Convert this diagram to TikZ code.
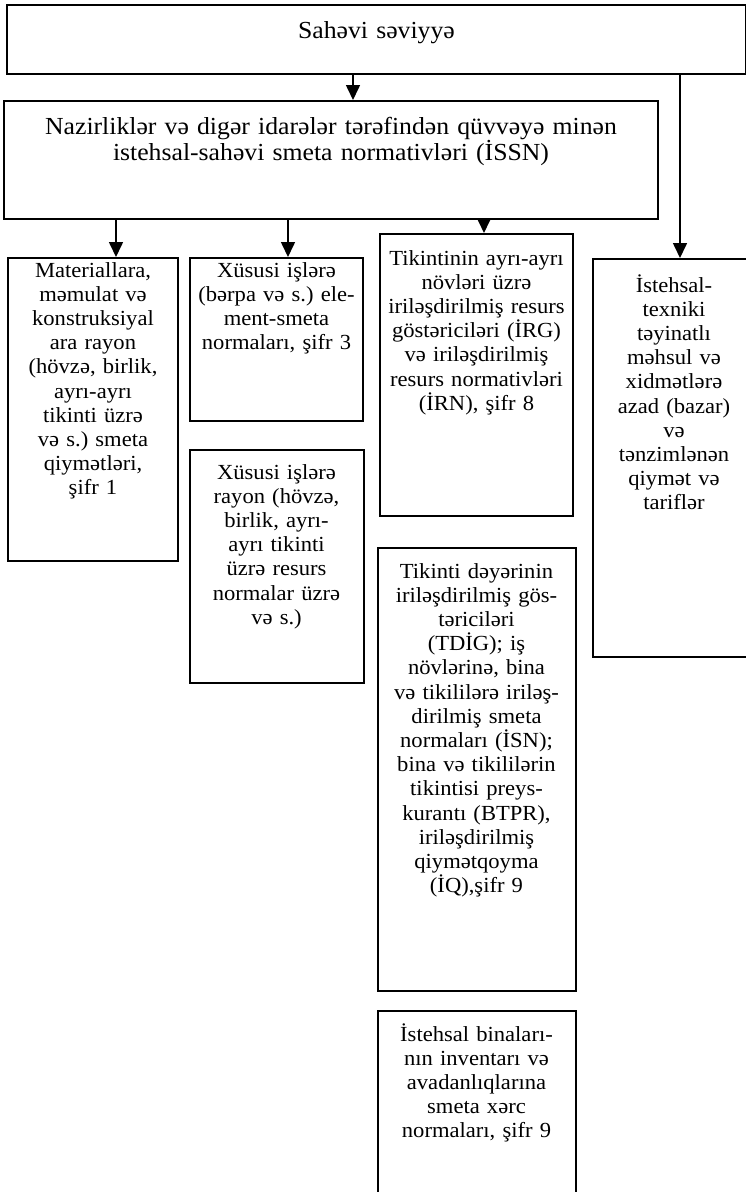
\documentclass[tikz,border=0pt]{standalone}
\usepackage{fontspec}
\setmainfont{Liberation Serif}[FakeStretch=1.05]
\frenchspacing
\usetikzlibrary{arrows.meta,positioning}
\tikzset{
  levelbox/.style={draw, line width=2pt, anchor=north west, inner sep=0pt, align=center,
    font=\fontsize{21.5}{24.2}\selectfont},
  widebox/.style={levelbox, font=\fontsize{24.5}{24}\selectfont},
  flow/.style={-{Triangle[length=15pt,width=14pt]}, line width=1.6pt},
}
\begin{document}
\begin{tikzpicture}[x=1pt, y=-1pt]
\useasboundingbox (0,0) rectangle (746,1192);

% Sector level and ISSN.
\node[widebox, text width=739pt, text height=33pt, text depth=36pt] (sector) at (6,4) {Sahəvi səviyyə};
\node[widebox, text width=654pt, text height=33pt, text depth=85pt] (issn) at (3,100)
  {Nazirliklər və digər idarələr tərəfindən qüvvəyə minən\\istehsal-sahəvi smeta normativləri (İSSN)};

% Columns under ISSN.
\node[levelbox, text width=170pt, text height=19pt, text depth=284pt] (materials) at (7,257)
  {Materiallara,\\məmulat və\\konstruksiyal\\ara rayon\\(hövzə, birlik,\\ayrı-ayrı\\tikinti üzrə\\və s.) smeta\\qiymətləri,\\şifr 1};
\node[levelbox, text width=173pt, text height=19pt, text depth=144pt] (elements) at (189,257)
  {Xüsusi işlərə\\(bərpa və s.) ele-\\ment-smeta\\normaları, şifr 3};
\node[levelbox, text width=174pt, text height=29pt, text depth=204pt, below=27pt of elements] (regional)
  {Xüsusi işlərə\\rayon (hövzə,\\birlik, ayrı-\\ayrı tikinti\\üzrə resurs\\normalar üzrə\\və s.)};
\node[levelbox, text width=193pt, text height=31pt, text depth=251pt] (resources) at (379,233)
  {Tikintinin ayrı-ayrı\\növləri üzrə\\iriləşdirilmiş resurs\\göstəriciləri (İRG)\\və iriləşdirilmiş\\resurs normativləri\\(İRN), şifr 8};
\node[levelbox, text width=198pt, text height=30pt, text depth=413pt, below=30pt of resources] (costindex)
  {Tikinti dəyərinin\\iriləşdirilmiş gös-\\təriciləri\\(TDİG); iş\\növlərinə, bina\\və tikililərə iriləş-\\dirilmiş smeta\\normaları (İSN);\\bina və tikililərin\\tikintisi preys-\\kurantı (BTPR),\\iriləşdirilmiş\\qiymətqoyma\\(İQ),şifr 9};
\node[levelbox, text width=198pt, text height=30pt, text depth=154pt, below=18pt of costindex] (inventory)
  {İstehsal binaları-\\nın inventarı və\\avadanlıqlarına\\smeta xərc\\normaları, şifr 9};

% Prices, straight from the sector level.
\node[levelbox, text width=162pt, text height=33pt, text depth=365pt] (prices) at (592,258)
  {İstehsal-\\texniki\\təyinatlı\\məhsul və\\xidmətlərə\\azad (bazar)\\və\\tənzimlənən\\qiymət və\\tariflər};

\draw[flow] ([xshift=22pt]issn.north |- sector.south) -- ([xshift=22pt]issn.north);
\draw[flow] ([xshift=6pt]prices.north |- sector.south) -- ([xshift=6pt]prices.north);
\draw[flow] ([xshift=23pt]materials.north |- issn.south) -- ([xshift=23pt]materials.north);
\draw[flow] ([xshift=11.5pt]elements.north |- issn.south) -- ([xshift=11.5pt]elements.north);
\draw[flow] ([xshift=7.5pt]resources.north |- issn.south) -- ([xshift=7.5pt]resources.north);

\end{tikzpicture}
\end{document}
